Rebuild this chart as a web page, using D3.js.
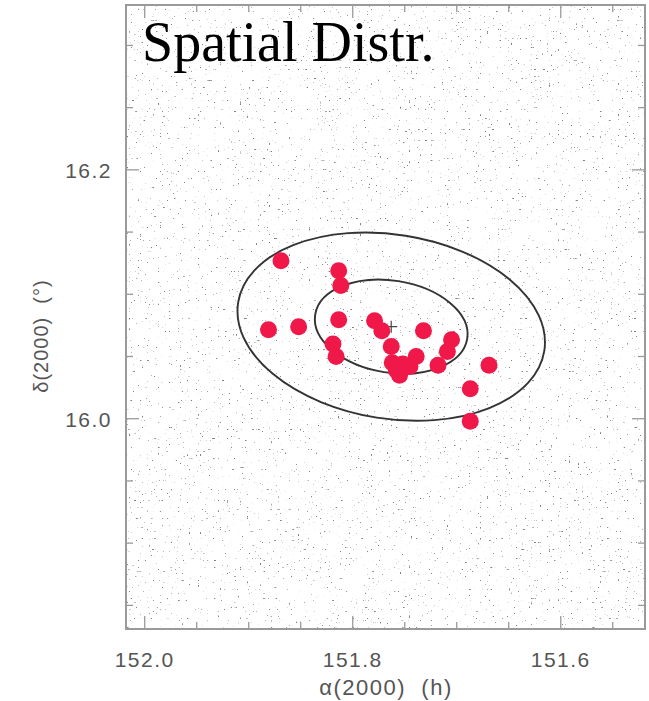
<!DOCTYPE html>
<html>
<head>
<meta charset="utf-8">
<script src="https://cdn.jsdelivr.net/npm/d3@7"></script>
<style>
  body { margin: 0; background: #fff; }
  svg { display: block; }
</style>
</head>
<body>
<svg id="chart" width="649" height="701"></svg>
<script>
// Axis extents (RA in hours, decreasing to the right; Dec in degrees)
const raDomain = [152.018, 151.519];
const decDomain = [15.831, 16.3325];
const raMajorTicks = [152.0, 151.8, 151.6];
const raMinorTicks = [151.95, 151.9, 151.85, 151.75, 151.7, 151.65, 151.55];
const decMajorTicks = [16.0, 16.2];
const decMinorTicks = [15.85, 15.9, 15.95, 16.05, 16.1, 16.15, 16.25, 16.3];
const raTickLabels = ["152.0", "151.8", "151.6"];
const decTickLabels = ["16.0", "16.2"];

// Group members
const memberRA = [151.869, 151.8135, 151.8115, 151.881, 151.852, 151.8135, 151.779, 151.772,
                  151.732, 151.705, 151.819, 151.816, 151.763, 151.762, 151.755, 151.745,
                  151.739, 151.752, 151.758, 151.709, 151.718, 151.669, 151.687, 151.687];
const memberDec = [16.127, 16.119, 16.107, 16.0715, 16.074, 16.0795, 16.0787, 16.0707,
                   16.0707, 16.0635, 16.060, 16.050, 16.058, 16.045, 16.035, 16.042,
                   16.050, 16.044, 16.039, 16.054, 16.043, 16.043, 16.024, 15.998];

// Concentric ellipses around the group centre
const ellipseCentre = [151.763, 16.074];
const ellipseSemiRA = [0.074, 0.149];
const ellipseSemiDec = [0.037, 0.074];
const ellipseTilt = 9;

const svg = d3.select("#chart");
const margin = { left: 126, right: 4, top: 5, bottom: 72 };
const W = 649, H = 701;

const x = d3.scaleLinear().domain(raDomain).range([margin.left, W - margin.right]);
const y = d3.scaleLinear().domain(decDomain).range([H - margin.bottom, margin.top]);

const defs = svg.append("defs");
// Grainy field texture for the faint background population
const f = defs.append("filter").attr("id", "speckle")
  .attr("x", 0).attr("y", 0).attr("width", 1).attr("height", 1);
f.append("feTurbulence").attr("type", "fractalNoise")
  .attr("baseFrequency", 0.55).attr("numOctaves", 1).attr("seed", 11);
f.append("feColorMatrix").attr("type", "matrix")
  .attr("values", "0 0 0 0 0.22  0 0 0 0 0.22  0 0 0 0 0.22  -16 0 0 0 4.85");

defs.append("clipPath").attr("id", "plotClip")
  .append("rect")
  .attr("x", x.range()[0]).attr("y", y.range()[1])
  .attr("width", x.range()[1] - x.range()[0])
  .attr("height", y.range()[0] - y.range()[1]);

svg.append("rect")
  .attr("x", x.range()[0]).attr("y", y.range()[1])
  .attr("width", x.range()[1] - x.range()[0])
  .attr("height", y.range()[0] - y.range()[1])
  .attr("fill", "#fff")
  .attr("filter", "url(#speckle)");

const plot = svg.append("g").attr("clip-path", "url(#plotClip)");

// Ellipses
const cx = x(ellipseCentre[0]), cy = y(ellipseCentre[1]);
plot.selectAll("ellipse.ring")
  .data(d3.range(ellipseSemiRA.length))
  .join("ellipse")
  .attr("class", "ring")
  .attr("cx", cx).attr("cy", cy)
  .attr("rx", i => x(ellipseCentre[0] - ellipseSemiRA[i]) - cx)
  .attr("ry", i => cy - y(ellipseCentre[1] + ellipseSemiDec[i]))
  .attr("transform", `rotate(${ellipseTilt},${cx},${cy})`)
  .attr("fill", "none")
  .attr("stroke", "#333")
  .attr("stroke-width", 1.9);

// Centre cross
plot.append("path")
  .attr("d", `M${cx - 6},${cy}H${cx + 6}M${cx},${cy - 6}V${cy + 6}`)
  .attr("stroke", "#444").attr("stroke-width", 1.2);

// Members
plot.selectAll("circle.member")
  .data(memberRA.map((ra, i) => [ra, memberDec[i]]))
  .join("circle")
  .attr("class", "member")
  .attr("cx", d => x(d[0]))
  .attr("cy", d => y(d[1]))
  .attr("r", 8.5)
  .attr("fill", "#f01848");

// Frame
const frameColor = "#9a9a9a";
svg.append("rect")
  .attr("x", x.range()[0]).attr("y", y.range()[1])
  .attr("width", x.range()[1] - x.range()[0])
  .attr("height", y.range()[0] - y.range()[1])
  .attr("fill", "none").attr("stroke", frameColor).attr("stroke-width", 2);

// Inward ticks on all sides
const majorLen = 13, minorLen = 7;
const tg = svg.append("g").attr("stroke", frameColor).attr("stroke-width", 1.3);
function xTicks(vals, len) {
  tg.selectAll(null).data(vals).join("line")
    .attr("x1", d => x(d)).attr("x2", d => x(d))
    .attr("y1", y.range()[0]).attr("y2", y.range()[0] - len);
  tg.selectAll(null).data(vals).join("line")
    .attr("x1", d => x(d)).attr("x2", d => x(d))
    .attr("y1", y.range()[1]).attr("y2", y.range()[1] + len);
}
function yTicks(vals, len) {
  tg.selectAll(null).data(vals).join("line")
    .attr("y1", d => y(d)).attr("y2", d => y(d))
    .attr("x1", x.range()[0]).attr("x2", x.range()[0] + len);
  tg.selectAll(null).data(vals).join("line")
    .attr("y1", d => y(d)).attr("y2", d => y(d))
    .attr("x1", x.range()[1]).attr("x2", x.range()[1] - len);
}
xTicks(raMajorTicks, majorLen);
xTicks(raMinorTicks, minorLen);
yTicks(decMajorTicks, majorLen);
yTicks(decMinorTicks, minorLen);

// Tick labels
const labelFont = "Liberation Sans, Arial, sans-serif";
svg.append("g").selectAll("text")
  .data(raMajorTicks)
  .join("text")
  .attr("x", d => x(d)).attr("y", 667)
  .attr("text-anchor", "middle")
  .attr("font-family", labelFont).attr("font-size", 21)
  .attr("letter-spacing", 1.5)
  .attr("fill", "#555")
  .text((d, i) => raTickLabels[i]);

svg.append("g").selectAll("text")
  .data(decMajorTicks)
  .join("text")
  .attr("x", 112).attr("y", d => y(d) + 8)
  .attr("text-anchor", "end")
  .attr("font-family", labelFont).attr("font-size", 21)
  .attr("letter-spacing", 1.5)
  .attr("fill", "#555")
  .text((d, i) => decTickLabels[i]);

// Axis titles
svg.append("text")
  .attr("x", 386).attr("y", 695)
  .attr("text-anchor", "middle")
  .attr("font-family", labelFont).attr("font-size", 22)
  .attr("letter-spacing", 1.5)
  .attr("fill", "#555")
  .text("α(2000)\u00a0\u00a0(h)");

svg.append("text")
  .attr("transform", "translate(48,336) rotate(-90)")
  .attr("text-anchor", "middle")
  .attr("font-family", labelFont).attr("font-size", 20)
  .attr("letter-spacing", 1)
  .attr("fill", "#555")
  .text("δ(2000)\u00a0\u00a0(°)");

// Panel title
svg.append("text")
  .attr("x", 142).attr("y", 61)
  .attr("font-family", "Liberation Serif, Times New Roman, serif")
  .attr("font-size", 56)
  .attr("fill", "#000")
  .text("Spatial Distr.");
</script>
</body>
</html>
